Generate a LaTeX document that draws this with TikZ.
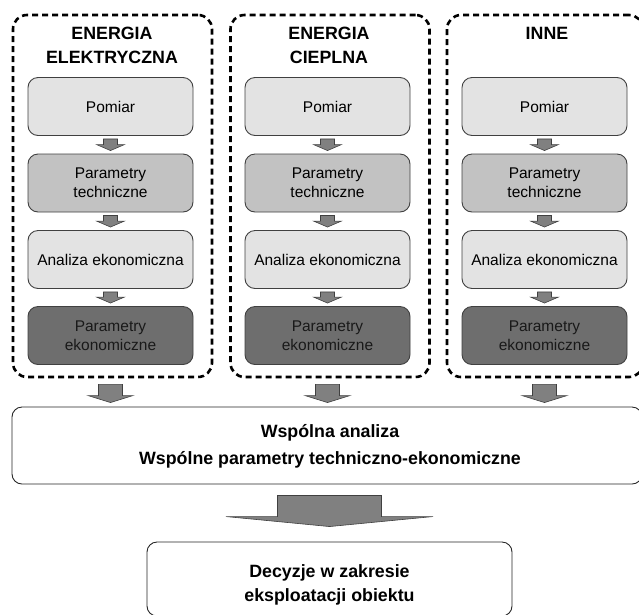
\documentclass[tikz,border=0pt]{standalone}
\usepackage{fontspec}
\setmainfont{Liberation Sans}
\usetikzlibrary{calc}
\tikzset{
 grp/.style={draw=black, line width=2.6pt, dash pattern=on 6pt off 4pt, rounded corners=14pt, minimum width=199pt, minimum height=362pt, inner sep=0pt},
 inner/.style={draw=black!75, line width=0.9pt, rounded corners=10pt, minimum width=165pt, minimum height=58pt, align=center, font=\fontsize{15.5}{19}\selectfont, inner sep=0pt},
 lt/.style={inner, fill=black!11},
 md/.style={inner, fill=black!24},
 dk/.style={inner, fill=black!57, text=black!90},
 head/.style={align=center, font=\bfseries\fontsize{17.8}{24}\selectfont, inner sep=0pt},
 big/.style={draw=black!85, line width=0.9pt, rounded corners=10pt, inner sep=0pt},
 bigtext/.style={align=center, inner sep=0pt},
 arr/.style={fill=black!50, draw=black!75, line width=0.6pt},
}
\newcommand\blockarrow[7]{%
 \path[arr] let \p1=#1, \p2=#2 in
 (\x1-#3pt,\y1-#6pt) -- (\x1+#3pt,\y1-#6pt) -- (\x1+#3pt,\y2+#7pt+#5pt) -- (\x1+#4pt,\y2+#7pt+#5pt) -- (\x1,\y2+#7pt) -- (\x1-#4pt,\y2+#7pt+#5pt) -- (\x1-#3pt,\y2+#7pt+#5pt) -- cycle;}
\begin{document}
\begin{tikzpicture}[x=1pt,y=-1pt]
\useasboundingbox (0,0) rectangle (639,614);
% containers
\node[grp] (g1) at (112.5,196) {};
\node[grp] (g2) at (330,196) {};
\node[grp, minimum width=196pt] (g3) at (545,196) {};
% headings
\node[head] (h1) at (112,45) {ENERGIA\\ELEKTRYCZNA};
\node[head] (h2) at (329,45) {ENERGIA\\CIEPLNA};
\node[head] (h3) at (547,33) {INNE};
% column boxes
\foreach \c/\x in {1/110.5,2/327.5,3/544.5}{
 \node[lt] (p\c) at (\x,106.5) {Pomiar};
 \node[md] (t\c) at (\x,183) {Parametry\\techniczne};
 \node[lt] (a\c) at (\x,259.5) {Analiza ekonomiczna};
 \node[dk] (e\c) at (\x,335.5) {Parametry\\ekonomiczne};
}
% common boxes
\node[big, minimum width=630pt, minimum height=77pt] (w) at (327,445.5) {};
\node[bigtext, font=\bfseries\fontsize{17.8}{27}\selectfont] (wt) at (330,446.5) {Wspólna analiza\\Wspólne parametry techniczno-ekonomiczne};
\node[big, minimum width=365pt, minimum height=74pt] (d) at (329.5,579) {};
\node[bigtext, font=\bfseries\fontsize{17.8}{24}\selectfont] (dt) at (329.5,584.5) {Decyzje w zakresie\\eksploatacji obiektu};
% arrows
\foreach \c in {1,2,3}{
 \blockarrow{(p\c.south)}{(t\c.north)}{7}{14}{6}{3}{3}
 \blockarrow{(t\c.south)}{(a\c.north)}{7}{14}{6}{3}{3}
 \blockarrow{(a\c.south)}{(e\c.north)}{7}{14}{6}{3}{3}
 \blockarrow{(e\c.south |- g\c.south)}{(e\c.south |- w.north)}{12}{22.5}{7}{6}{4}
}
\blockarrow{(d.north |- w.south)}{(d.north)}{52}{103.5}{10}{11}{15}
\end{tikzpicture}
\end{document}
